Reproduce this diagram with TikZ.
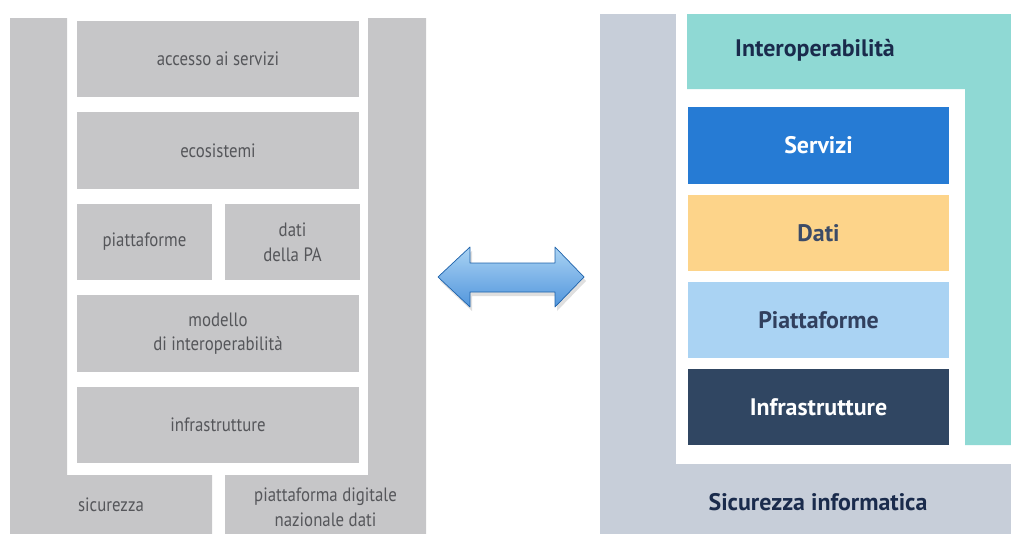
\documentclass[tikz,border=0pt]{standalone}
\usepackage{fontspec}
\setmainfont{PT Sans}
\newfontfamily\narrowfont{PT Sans}[FakeStretch=0.87]
\usepackage{tikz}
\usetikzlibrary{shadows}
\definecolor{lgray}{HTML}{C6C6C8}
\definecolor{ltext}{HTML}{55565A}
\definecolor{rgray}{HTML}{C7CED9}
\definecolor{interop}{HTML}{8FD9D4}
\definecolor{navy}{HTML}{1A2B4C}
\definecolor{servblue}{HTML}{267BD4}
\definecolor{datiyel}{HTML}{FDD48A}
\definecolor{piattblue}{HTML}{AAD3F3}
\definecolor{infradark}{HTML}{304662}

\begin{document}
\begin{tikzpicture}[x=0.02cm, y=-0.02cm,
  box/.style = {fill=lgray, minimum width=5.64cm, minimum height=1.54cm, inner sep=0, align=center, text=ltext, font=\narrowfont\fontsize{11}{14}\selectfont},
  half/.style = {box, minimum width=2.7cm},
  lbl/.style = {inner sep=0, align=center},
  layer/.style = {minimum width=5.22cm, minimum height=1.54cm, inner sep=0, font=\fontsize{13.6}{16}\selectfont\bfseries}]
	\useasboundingbox (0,0) rectangle (1011,534);
	% left: old model
	\fill[lgray] (10,18) -- (67,18) -- (67,475) -- (212,475) -- (212,534) -- (10,534) -- cycle;
	\fill[lgray] (368,18) -- (426,18) -- (426,534) -- (225,534) -- (225,475) -- (368,475) -- cycle;
	\node[box] (acc) at (218,59){accesso ai servizi};
	\node[box] (eco) at (218,150.5){ecosistemi};
	\node[half] (piatt) at (144.5,242){piattaforme};
	\node[half] (datipa) at (292.5,242){dati\\della PA};
	\node[box] (mod) at (218,333.5){modello\\di interoperabilità};
	\node[box] (infra) at (218,425){infrastrutture};
	\node[lbl, text=ltext, font=\narrowfont\fontsize{11}{14}\selectfont] (sic) at (111,505){sicurezza};
	\node[lbl, text=ltext, font=\narrowfont\fontsize{11}{14}\selectfont] (pdnd) at (325.5,507){piattaforma digitale\\nazionale dati};
	% arrow
	\draw[draw=servblue!80!black, top color=piattblue, bottom color=servblue!80, line join=round,
	      drop shadow={opacity=0.25, shadow xshift=0.4mm, shadow yshift=-0.8mm}]
	  (438,277) -- (470,247) -- (470,263) -- (555,263) -- (555,247) -- (584,277)
	  -- (555,307) -- (555,292) -- (470,292) -- (470,307) -- cycle;
	% right: new model
	\fill[rgray] (600,14) rectangle (1011,534);
	\fill[white] (676,14) rectangle (1011,464);
	\fill[interop] (687,14) -- (1011,14) -- (1011,445) -- (965,445) -- (965,89) -- (687,89) -- cycle;
	\node[lbl, text=navy, font=\fontsize{13.6}{16}\selectfont\bfseries] (iop) at (815,50){Interoperabilità};
	\node[layer, fill=servblue, text=white] (serv) at (818.5,145.5){Servizi};
	\node[layer, fill=datiyel, text=navy!85] (dati) at (818.5,233){Dati};
	\node[layer, fill=piattblue, text=navy!90] (piattaf) at (818.5,320){Piattaforme};
	\node[layer, fill=infradark, text=white] (infras) at (818.5,407){Infrastrutture};
	\node[lbl, text=navy, font=\fontsize{13.6}{16}\selectfont\bfseries] (sicinf) at (818,502){Sicurezza informatica};
\end{tikzpicture}
\end{document}
